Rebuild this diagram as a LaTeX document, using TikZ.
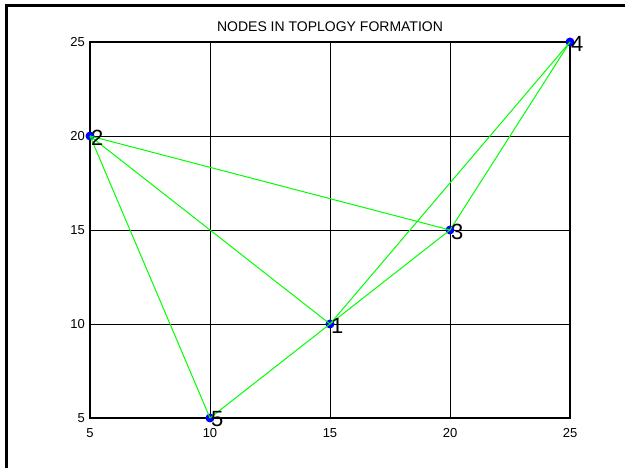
\documentclass[tikz,border=0pt]{standalone}
\usepackage{fontspec}
\setmainfont{Liberation Sans}
\definecolor{linegreen}{RGB}{0,255,0}
\definecolor{dotblue}{RGB}{0,0,255}
\tikzset{
  dot/.style={circle, fill=dotblue, inner sep=0pt, minimum size=9pt},
  edge/.style={linegreen, line width=1pt},
  grid line/.style={black, line width=0.9pt},
  lbl/.style={anchor=west, inner sep=1pt, yshift=-1.5pt, font=\fontsize{22}{22}\selectfont},
  ticklbl/.style={inner sep=0pt, font=\fontsize{13}{13}\selectfont},
  titlelbl/.style={inner sep=0pt, font=\fontsize{14}{14}\selectfont}
}
\begin{document}
\begin{tikzpicture}[x=1pt, y=1pt]
\useasboundingbox (0,0) rectangle (625,468);
\fill[white] (0,0) rectangle (625,468);
% outer frame (only left and top edges visible)
\draw[line width=3pt] (6.5,-10) -- (6.5,462) -- (640,462);
% grid
\foreach \x in {210,330,450} \draw[grid line] (\x,50) -- (\x,426);
\foreach \y in {144,238,332} \draw[grid line] (90,\y) -- (570,\y);
% axes box
\draw[line width=1.5pt] (90,50) rectangle (570,426);
% tick labels
\foreach \v/\y in {5/50,10/144,15/238,20/332,25/426}
  \node[ticklbl, anchor=east] (ty\v) at (85,\y) {\v};
\foreach \v/\x in {5/90,10/210,15/330,20/450,25/570}
  \node[ticklbl, anchor=north] (tx\v) at (\x,40) {\v};
% title
\node[titlelbl] (title) at (330,441) {NODES IN TOPLOGY FORMATION};
% nodes
\node[dot] (n1) at (330,144) {};
\node[dot] (n2) at (90,332) {};
\node[dot] (n3) at (450,238) {};
\node[dot] (n4) at (570,426) {};
\node[dot] (n5) at (210,50) {};
% edges
\draw[edge] (n2.center) -- (n5.center);
\draw[edge] (n2.center) -- (n1.center);
\draw[edge] (n2.center) -- (n3.center);
\draw[edge] (n5.center) -- (n1.center);
\draw[edge] (n1.center) -- (n3.center);
\draw[edge] (n1.center) -- (n4.center);
\draw[edge] (n3.center) -- (n4.center);
% labels
\node[lbl] (l1) at (n1.center) {1};
\node[lbl] (l2) at (n2.center) {2};
\node[lbl] (l3) at (n3.center) {3};
\node[lbl] (l4) at (n4.center) {4};
\node[lbl] (l5) at (n5.center) {5};
\end{tikzpicture}
\end{document}
